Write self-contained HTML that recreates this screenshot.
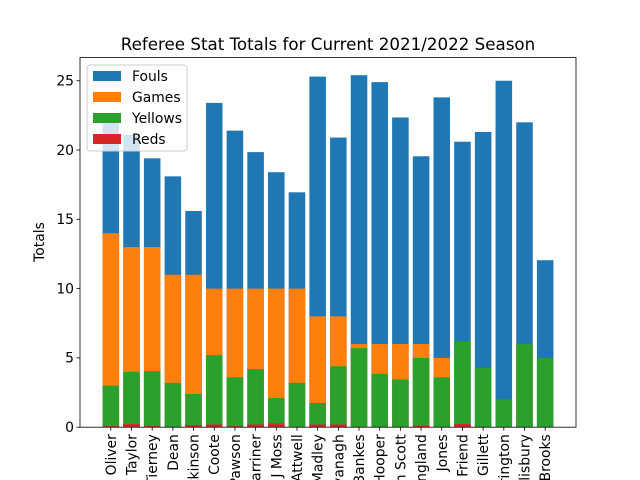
<!DOCTYPE html>
<html><head><meta charset="utf-8"><style>
html,body{margin:0;background:#fff;width:640px;height:480px;overflow:hidden}
svg{display:block;overflow:hidden;font-family:"DejaVu Sans","Liberation Sans",sans-serif}
</style></head><body>
<svg id="chart" width="640" height="480" xmlns="http://www.w3.org/2000/svg">
<text x="328" y="50" font-size="16.7" text-anchor="middle">Referee Stat Totals for Current 2021/2022 Season</text>
<text transform="translate(44,242) rotate(-90)" font-size="13.9" text-anchor="middle">Totals</text>
<g id="bars"></g>
<g id="axes"></g>
<g id="legend">
<rect x="87" y="65" width="100" height="86" rx="3" fill="#fff" fill-opacity="0.8" stroke="#ccc"/>
</g>
</svg>
<script>
const names = ["Michael Oliver","Anthony Taylor","Paul Tierney","Dean","Martin Atkinson","David Coote","Craig Pawson","Andre Marriner","J Moss","Stuart Attwell","Andy Madley","Chris Kavanagh","Peter Bankes","Simon Hooper","Graham Scott","Darren England","Jones","Kevin Friend","Jarred Gillett","Tony Harrington","Michael Salisbury","John Brooks"];
const fouls = [22.0,21.1,19.4,18.1,15.6,23.4,21.4,19.85,18.4,16.95,25.3,20.9,25.4,24.9,22.35,19.55,23.8,20.6,21.3,25.0,22.0,12.05];
const games = [14,13,13,11,11,10,10,10,10,10,8,8,6,6,6,6,5,0,0,0,6,0];
const yellows = [3.0,4.0,4.05,3.2,2.4,5.2,3.6,4.2,2.1,3.2,1.75,4.4,5.7,3.85,3.45,5.0,3.6,6.2,4.3,2.0,6.0,5.0];
const reds = [0.07,0.23,0.08,0,0.15,0.2,0.07,0.2,0.27,0,0.2,0.2,0,0,0,0.1,0,0.23,0,0,0,0];
const yTicks = [0,5,10,15,20,25];
const seriesNames = ["Fouls","Games","Yellows","Reds"];
const colors = ["#1f77b4","#ff7f0e","#2ca02c","#d62728"];

const NS="http://www.w3.org/2000/svg";
const L=80,R=576,T=57.6,B=427.2;
const n=names.length;
const xmin=-0.4-(n-0.2)*0.05, xmax=n-1+0.4+(n-0.2)*0.05;
const allMax=Math.max(...fouls,...games,...yellows,...reds);
const ymax=allMax*1.05;
const xs=v=>L+(v-xmin)/(xmax-xmin)*(R-L);
const ys=v=>B-v/ymax*(B-T);
function mk(tag,attrs,parent){const e=document.createElementNS(NS,tag);for(const k in attrs)e.setAttribute(k,attrs[k]);parent.appendChild(e);return e;}
const bars=document.getElementById('bars');
const axes=document.getElementById('axes');
const series=[fouls,games,yellows,reds];
series.forEach((s,si)=>{
  s.forEach((v,i)=>{
    const r=mk('rect',{x:xs(i-0.4),y:ys(v),width:xs(i+0.4)-xs(i-0.4),height:Math.max(0,B-ys(v)),fill:colors[si]},bars);
    
    
  });
});
const frame=mk('rect',{x:L,y:T,width:R-L,height:B-T,fill:'none',stroke:'#000','stroke-width':0.8},axes);


yTicks.forEach(t=>{
  const y=ys(t);
  mk('line',{x1:L-3.5,x2:L,y1:y,y2:y,stroke:'#000','stroke-width':0.8},axes);
  const tx=mk('text',{x:L-6,y:y+4.8,'font-size':13.9,'text-anchor':'end'},axes);
  tx.textContent=t;
  
  
});
names.forEach((nm,i)=>{
  const x=xs(i);
  mk('line',{x1:x,x2:x,y1:B,y2:B+3.5,stroke:'#000','stroke-width':0.8},axes);
  const tx=mk('text',{transform:`translate(${x+5},${B+7}) rotate(-90)`,'font-size':13.9,'text-anchor':'end'},axes);
  tx.textContent=nm;
  
  
});
const lg=document.getElementById('legend');
seriesNames.forEach((s,i)=>{
  const y=71+i*21;
  const p=mk('rect',{x:93,y:y,width:28,height:10,fill:colors[i]},lg);
  
  
  const t=mk('text',{x:132,y:y+10,'font-size':13.9},lg);
  t.textContent=s;
  
  
});
</script>
</body></html>
